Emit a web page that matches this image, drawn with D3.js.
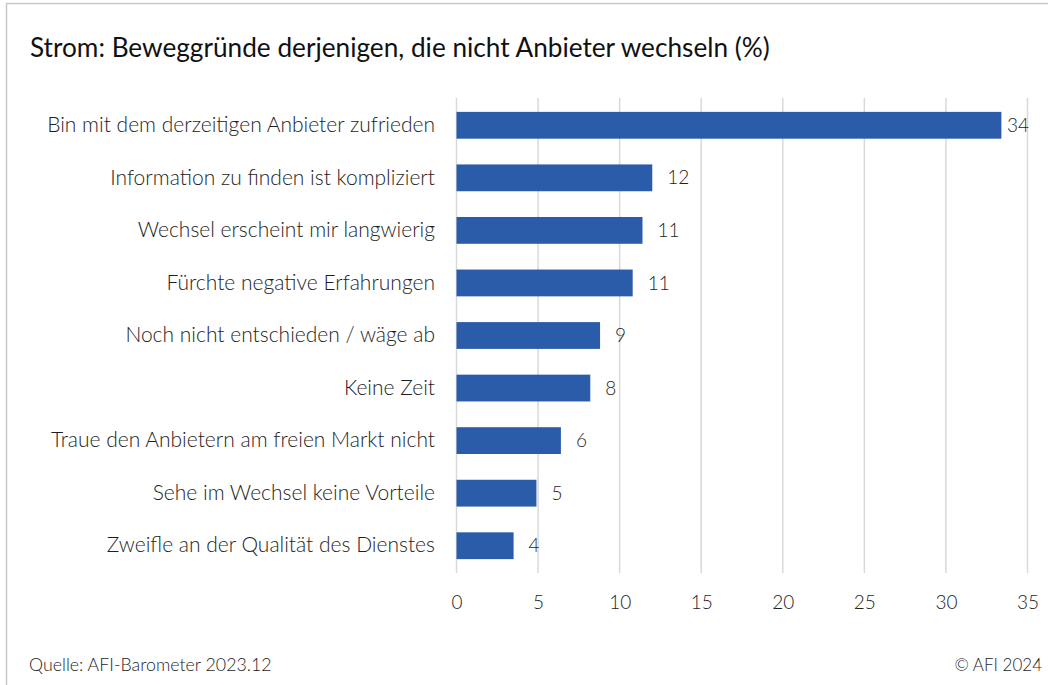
<!DOCTYPE html>
<html>
<head>
<meta charset="utf-8">
<script src="https://cdn.jsdelivr.net/npm/d3@7"></script>
<style>
  body { margin: 0; background: #fff; }
  svg text { font-family: Lato, "Noto Sans", sans-serif; font-weight: 300; }
  svg text.title { font-weight: 400; }
</style>
</head>
<body>
<div id="viz"></div>
<script>
// Data
var CATEGORIES = [
  "Bin mit dem derzeitigen Anbieter zufrieden",
  "Information zu finden ist kompliziert",
  "Wechsel erscheint mir langwierig",
  "Fürchte negative Erfahrungen",
  "Noch nicht entschieden / wäge ab",
  "Keine Zeit",
  "Traue den Anbietern am freien Markt nicht",
  "Sehe im Wechsel keine Vorteile",
  "Zweifle an der Qualität des Dienstes"
];
var VALUES = [33.4, 12.0, 11.4, 10.8, 8.8, 8.2, 6.4, 4.9, 3.5];
var VALUE_LABELS = ["34", "12", "11", "11", "9", "8", "6", "5", "4"];
var TICKS = [0, 5, 10, 15, 20, 25, 30, 35];

var TITLE = "Strom: Beweggründe derjenigen, die nicht Anbieter wechseln (%)";
var SOURCE = "Quelle: AFI-Barometer 2023.12";
var COPYRIGHT = "© AFI 2024";

var SVG_WIDTH = 1048, SVG_HEIGHT = 685;
var BAR_COLOR = "#2b5ca9";
var GRID_COLOR = "#d9d9d9";
var TEXT_COLOR = "#1e1e1e";

var svg = d3.select("#viz")
  .append("svg")
  .attr("width", SVG_WIDTH)
  .attr("height", SVG_HEIGHT);

// frame (continues past right/bottom edge)
svg.append("rect")
  .attr("x", 6.5).attr("y", 3.5)
  .attr("width", SVG_WIDTH).attr("height", SVG_HEIGHT)
  .attr("fill", "none")
  .attr("stroke", "#c8c8c8")
  .attr("stroke-width", 1.5);

// title
svg.append("text")
  .attr("class", "title")
  .attr("x", 30).attr("y", 57)
  .attr("font-size", 26.2)
  .attr("fill", "#111")
  .text(TITLE);

var x = d3.scaleLinear().domain([0, 35]).range([456.5, 1027.5]);
var y = d3.scaleBand().domain(CATEGORIES).range([99, 572]).paddingInner(0.49).paddingOuter(0.245);

// gridlines
svg.append("g")
  .selectAll("line")
  .data(TICKS)
  .enter().append("line")
  .attr("x1", function(d){ return x(d); })
  .attr("x2", function(d){ return x(d); })
  .attr("y1", 98).attr("y2", 573)
  .attr("stroke", GRID_COLOR)
  .attr("stroke-width", 1.5);

// x axis labels
var xAxis = d3.axisBottom(x).tickValues(TICKS).tickSize(0).tickPadding(0);
var gx = svg.append("g")
  .attr("transform", "translate(0,595)")
  .call(xAxis);
gx.select(".domain").remove();
gx.selectAll("text")
  .attr("font-size", 19)
  .attr("fill", TEXT_COLOR)
  .attr("dy", "0.71em");

// category labels
var yAxis = d3.axisLeft(y).tickSize(0).tickPadding(0);
var gy = svg.append("g")
  .attr("transform", "translate(435,0)")
  .call(yAxis);
gy.select(".domain").remove();
gy.selectAll("text")
  .attr("font-size", 21)
  .attr("fill", TEXT_COLOR);

// bars
var bars = svg.append("g")
  .selectAll("g")
  .data(VALUES)
  .enter().append("g");

bars.append("rect")
  .attr("x", x(0))
  .attr("y", function(d, i){ return y(CATEGORIES[i]); })
  .attr("width", function(d){ return x(d) - x(0); })
  .attr("height", y.bandwidth())
  .attr("fill", BAR_COLOR);

// value labels, pushed in where the space runs out
bars.append("text")
  .attr("x", function(d){ return Math.min(x(d) + 15, 1007); })
  .attr("y", function(d, i){ return y(CATEGORIES[i]) + y.bandwidth() / 2; })
  .attr("dy", "0.35em")
  .attr("font-size", 19)
  .attr("fill", TEXT_COLOR)
  .text(function(d, i){ return VALUE_LABELS[i]; });

// footer
svg.append("text")
  .attr("x", 29).attr("y", 671)
  .attr("font-size", 17.8)
  .attr("fill", TEXT_COLOR)
  .text(SOURCE);

svg.append("text")
  .attr("x", 1042).attr("y", 671)
  .attr("text-anchor", "end")
  .attr("font-size", 17)
  .attr("fill", TEXT_COLOR)
  .text(COPYRIGHT);
</script>
</body>
</html>
